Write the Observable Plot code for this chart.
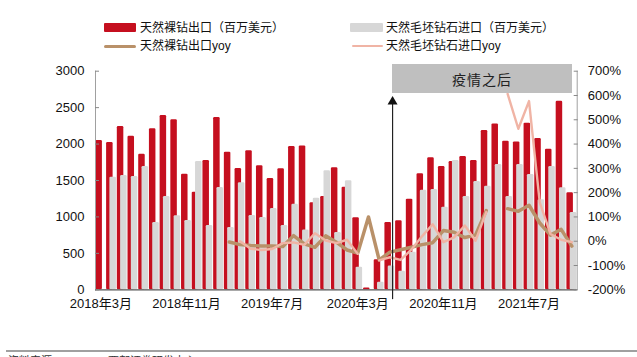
<!DOCTYPE html>
<html>
<head>
<meta charset="utf-8">
<script src="https://cdn.jsdelivr.net/npm/d3@7"></script>
<script src="https://cdn.jsdelivr.net/npm/@observablehq/plot@0.6"></script>
<style>
html,body{margin:0;padding:0;background:#fff;}
#wrap{position:relative;width:637px;height:357px;overflow:hidden;font-family:"Liberation Sans",Arial,"Noto Sans CJK SC",sans-serif;}
#legend{position:relative;height:58px;}
.sw{position:absolute;}
.lt{position:absolute;font-family:"Liberation Sans","Noto Sans CJK SC",sans-serif;font-size:12px;line-height:14px;color:#111;white-space:nowrap;}
#note{position:absolute;left:392px;top:64px;width:180px;height:29px;background:#BFBFBF;display:flex;align-items:center;justify-content:center;font-family:"Noto Sans CJK SC",sans-serif;font-size:14px;color:#222;letter-spacing:1px;}
#chart{height:252px;}
#chart svg{display:block;overflow:visible;}
#footer{position:relative;height:47px;}
#footer .rule{position:absolute;left:6px;right:0;top:40px;height:2px;background:#A0A0A0;}
#footer .src{position:absolute;left:8px;top:44px;font-family:"Noto Sans CJK SC",sans-serif;font-size:11px;line-height:13px;color:#333;white-space:nowrap;}
</style>
</head>
<body>
<div id="wrap">
  <div id="legend"></div>
  <div id="chart"></div>
  <div id="footer"><div class="rule"></div><div class="src" id="src"></div></div>
  <div id="note"></div>
</div>
<script>
// ---- data ----
const months = [
  "2018-03","2018-04","2018-05","2018-06","2018-07","2018-08","2018-09","2018-10","2018-11","2018-12",
  "2019-01","2019-02","2019-03","2019-04","2019-05","2019-06","2019-07","2019-08","2019-09","2019-10",
  "2019-11","2019-12","2020-01","2020-02","2020-03","2020-04","2020-05","2020-06","2020-07","2020-08",
  "2020-09","2020-10","2020-11","2020-12","2021-01","2021-02","2021-03","2021-04","2021-05","2021-06",
  "2021-07","2021-08","2021-09","2021-10","2021-11"
];
// 天然裸钻出口（百万美元）
const exportValue = [
  2049,2021,2241,2108,1861,2209,2392,2332,1587,1340,
  1774,2364,1889,1665,1907,1701,1527,1660,1966,1975,
  1194,1280,1674,1408,988,23,412,924,947,1244,
  1591,1811,1692,1761,1829,1774,2186,2277,2040,2030,
  2287,2076,1930,2588,1331
];
// 天然毛坯钻石进口（百万美元）
const importValue = [
  null,1546,1568,1555,1692,924,1280,1015,951,1761,
  883,1404,855,1468,1020,992,1116,883,1175,819,
  1258,1633,787,1495,311,null,105,325,256,517,
  1367,1376,1134,1774,1280,1486,1422,1720,1280,1720,
  1582,1235,1692,1399,1061
];
// 天然裸钻出口yoy (%)
const exportYoy = [
  null,null,null,null,null,null,null,null,null,null,
  null,null,-3,-14,-18,-20,-20,-22,23,-11,
  -25,22,-4,-36,-49,100,-77,-45,-35,-25,
  -14,-6,44,37,15,25,126,null,134,123,
  148,75,25,49,-20
];
// 天然毛坯钻石进口yoy (%)
const importYoy = [
  null,null,null,null,null,null,null,null,null,null,
  null,null,null,0,-31,-36,-32,-8,-5,-15,
  33,3,-8,6,-52,null,-79,-66,-77,-35,
  20,70,-4,16,65,2,120,null,607,463,
  577,160,30,6,-4
];
const tickMonths = ["2018-03","2018-11","2019-07","2020-03","2020-11","2021-07"];
const tickLabels = ["2018年3月","2018年11月","2019年7月","2020年3月","2020年11月","2021年7月"];
const leftTicks = [0,500,1000,1500,2000,2500,3000];
const rightTicks = [-200,-100,0,100,200,300,400,500,600,700];
const seriesNames = ["天然裸钻出口（百万美元）","天然毛坯钻石进口（百万美元）","天然裸钻出口yoy","天然毛坯钻石进口yoy"];
const noteText = "疫情之后";
const noteMonth = "2020-06";
const sourceText = "资料来源：GJEPC，西部证券研发中心";

// ---- styles ----
const RED = "#C50F1F", GREY = "#D7D7D7", BROWN = "#B99169", PINK = "#F0B4A5";

// right axis (%) mapped onto left axis units
const pctToLeft = p => (p == null ? NaN : (p + 200) * 3000 / 900);
const leftToPct = v => Math.round(v * 900 / 3000 - 200);

const rows = months.map((m, i) => ({
  month: m, exp: exportValue[i], imp: importValue[i], expYoy: exportYoy[i], impYoy: importYoy[i]
}));
const tickLabelOf = new Map(tickMonths.map((m, i) => [m, tickLabels[i]]));

const chart = Plot.plot({
  width: 637,
  height: 252,
  marginTop: 12.7,
  marginBottom: 20.7,
  marginLeft: 95,
  marginRight: 60.3,
  x: {type: "band", domain: months, padding: 0},
  y: {domain: [0, 3000]},
  style: {fontFamily: '"Liberation Sans", Arial, "Noto Sans CJK SC", sans-serif', fontSize: "13px", color: "#111", background: "transparent"},
  marks: [
    Plot.barY(rows, {x: "month", y: "exp", fill: RED, insetLeft: 0.4, insetRight: 3.8, rx: 1.2}),
    Plot.barY(rows.filter(d => d.imp != null), {x: "month", y: "imp", fill: GREY, insetLeft: 3.7, insetRight: 0.5, rx: 1.2}),
    Plot.line(rows, {x: "month", y: d => pctToLeft(d.expYoy), stroke: BROWN, strokeWidth: 3.5, strokeLinejoin: "round"}),
    Plot.line(rows, {x: "month", y: d => pctToLeft(d.impYoy), stroke: PINK, strokeWidth: 2.4, strokeLinejoin: "round"}),
    Plot.frame({anchor: "left", stroke: "#A0A0A0"}),
    Plot.frame({anchor: "right", stroke: "#A0A0A0"}),
    Plot.ruleY([0], {stroke: "#555", strokeWidth: 1.2}),
    Plot.axisY({anchor: "left", ticks: leftTicks, tickFormat: d => String(d), tickSize: -4, tickPadding: 15, stroke: "#888", fill: "#111", label: null}),
    Plot.axisY({anchor: "right", ticks: rightTicks.map(pctToLeft), tickFormat: d => leftToPct(d) + "%", tickSize: -4, tickPadding: 14.6, stroke: "#888", fill: "#111", label: null}),
    Plot.axisX({ticks: tickMonths, tickFormat: d => tickLabelOf.get(d), tickSize: 0, tickPadding: 9, fill: "#111", label: null}),
    Plot.ruleX([noteMonth], {x: d => d, y1: -135, y2: 2545, stroke: "#222", strokeWidth: 1.2, dx: 2.7}),
    Plot.dot([noteMonth], {x: d => d, y: 2582, symbol: "triangle", r: 3.7, fill: "#111", stroke: "none", dx: 2.7})
  ]
});
document.getElementById("chart").appendChild(chart);

// legend
const legend = document.getElementById("legend");
const items = [
  {kind: "rect", color: RED, left: 104, top: 23, w: 32, h: 9, tx: 140, ty: 21, label: seriesNames[0]},
  {kind: "rect", color: GREY, left: 350, top: 23, w: 33, h: 9, tx: 386, ty: 21, label: seriesNames[1]},
  {kind: "line", color: BROWN, left: 104, top: 45, w: 32, h: 3, tx: 140, ty: 39, label: seriesNames[2]},
  {kind: "line", color: PINK, left: 352, top: 45, w: 31, h: 2, tx: 386, ty: 39, label: seriesNames[3]}
];
for (const it of items) {
  const s = document.createElement("div");
  s.className = "sw";
  s.style.cssText = `left:${it.left}px;top:${it.top}px;width:${it.w}px;height:${it.h}px;background:${it.color};border-radius:${it.kind === "line" ? 1.5 : 1}px;`;
  legend.appendChild(s);
  const t = document.createElement("div");
  t.className = "lt";
  t.style.left = it.tx + "px";
  t.style.top = it.ty + "px";
  t.textContent = it.label;
  legend.appendChild(t);
}
document.getElementById("note").textContent = noteText;
document.getElementById("src").textContent = sourceText;
</script>
</body>
</html>
